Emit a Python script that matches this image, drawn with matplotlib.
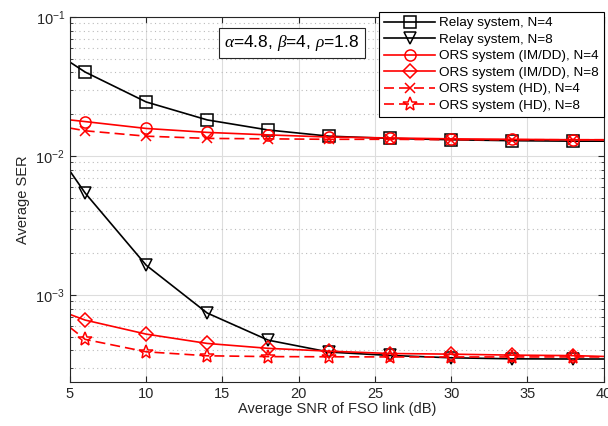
import matplotlib
matplotlib.use("Agg")
import matplotlib.pyplot as plt
import numpy as np
from matplotlib.ticker import LogLocator, NullFormatter

plt.rcParams['font.family'] = ['Liberation Sans', 'DejaVu Sans']
plt.rcParams['mathtext.fontset'] = 'custom'
plt.rcParams['mathtext.rm'] = 'Liberation Sans'
plt.rcParams['mathtext.it'] = 'Liberation Serif:italic'

snr = [5, 6, 10, 14, 18, 22, 26, 30, 34, 38, 40]
relay_n4 = [0.0474, 0.0402, 0.0245, 0.0182, 0.0154, 0.0139, 0.0134, 0.0131, 0.0129, 0.0128, 0.0128]
relay_n8 = [0.0078, 0.00542, 0.00164, 0.000743, 0.000474, 0.000389, 0.000368, 0.000354, 0.000348, 0.000347, 0.000347]
ors_imdd_n4 = [0.0182, 0.0177, 0.0158, 0.0148, 0.0142, 0.0137, 0.0135, 0.0133, 0.0132, 0.0131, 0.0131]
ors_imdd_n8 = [0.000726, 0.000661, 0.000524, 0.000449, 0.000414, 0.000395, 0.000380, 0.000376, 0.000370, 0.000367, 0.000362]
ors_hd_n4 = [0.0159, 0.0152, 0.0139, 0.0134, 0.0133, 0.0132, 0.0132, 0.0131, 0.0131, 0.0131, 0.0131]
ors_hd_n8 = [0.000586, 0.00048, 0.000391, 0.000366, 0.000361, 0.00036, 0.000359, 0.000359, 0.000359, 0.000359, 0.000359]

labels = ["Relay system, N=4", "Relay system, N=8",
          "ORS system (IM/DD), N=4", "ORS system (IM/DD), N=8",
          "ORS system (HD), N=4", "ORS system (HD), N=8"]

fig = plt.figure(figsize=(6.08, 4.26), dpi=100)
ax = fig.add_axes([0.115, 0.103, 0.878, 0.857])

me = slice(1, -1)
common = dict(lw=1.2, markersize=8, markerfacecolor='none', markevery=me, markeredgewidth=1.1)
ax.plot(snr, relay_n4, '-', color='black', marker='s', label=labels[0], **common)
ax.plot(snr, relay_n8, '-', color='black', marker='v', label=labels[1], **dict(common, markersize=9))
ax.plot(snr, ors_imdd_n4, '-', color='red', marker='o', label=labels[2], **common)
ax.plot(snr, ors_imdd_n8, '-', color='red', marker='D', label=labels[3], **dict(common, markersize=7.5))
ax.plot(snr, ors_hd_n4, '--', color='red', marker='x', label=labels[4], dashes=(6, 3), **dict(common, markersize=6.5))
ax.plot(snr, ors_hd_n8, '--', color='red', marker='*', label=labels[5], dashes=(6, 3), **dict(common, markersize=10))

ax.set_yscale('log')
ax.set_xlim(5, 40)
ax.set_ylim(10**(-3.626), 0.1)
ax.set_xticks([5, 10, 15, 20, 25, 30, 35, 40])
ax.yaxis.set_major_locator(LogLocator(base=10, numticks=10))
ax.yaxis.set_minor_locator(LogLocator(base=10, subs=np.arange(2, 10), numticks=20))
ax.yaxis.set_minor_formatter(NullFormatter())

ax.grid(True, which='major', color='#dddddd', lw=0.8, ls='-')
ax.grid(True, which='minor', axis='y', color='#bbbbbb', lw=0.8, ls=(0, (1, 3)))
ax.set_axisbelow(True)

ax.tick_params(which='both', direction='in', labelsize=10.5, colors='#262626', top=True, right=True)
ax.tick_params(which='major', length=4)
ax.tick_params(which='minor', length=2)
for s in ax.spines.values():
    s.set_color('#262626')
    s.set_linewidth(0.8)

ax.set_xlabel('Average SNR of FSO link (dB)', fontsize=10.5, color='#262626', labelpad=1)
ax.set_ylabel('Average SER', fontsize=10.5, color='#262626', labelpad=4)

leg = ax.legend(loc='upper right', bbox_to_anchor=(1.0, 1.013), fontsize=9.7, frameon=True,
                fancybox=False, edgecolor='black', framealpha=1, handlelength=3.8,
                borderpad=0.35, labelspacing=0.3, handletextpad=0.3, borderaxespad=0)
leg.get_frame().set_linewidth(0.8)

ax.text(0.416, 0.929, r'$\alpha$=4.8, $\beta$=4, $\rho$=1.8', transform=ax.transAxes,
        fontsize=12.5, va='center', ha='center',
        bbox=dict(boxstyle='square,pad=0.3', facecolor='white', edgecolor='#262626', lw=0.8))

fig.savefig('out.png', dpi=100)
